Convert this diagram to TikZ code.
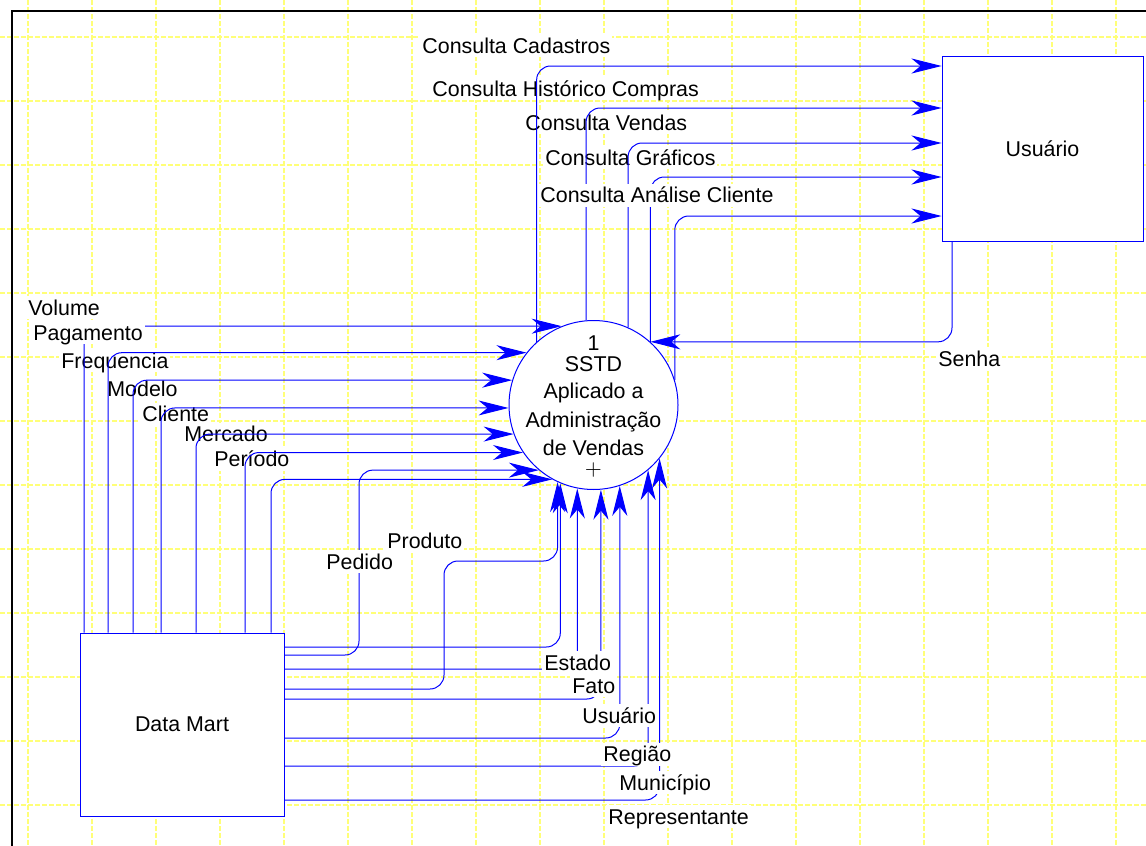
\documentclass[tikz,border=0pt]{standalone}
\usepackage{fontspec}
\setmainfont{Liberation Sans}
\usetikzlibrary{arrows.meta}
\definecolor{gridyellow}{RGB}{255,255,120}
\begin{document}
\begin{tikzpicture}[x=0.5pt,y=-0.5pt,
  every node/.style={font=\fontsize{10.7}{13.7}\selectfont},
  lbl/.style={fill=white,inner sep=1pt,anchor=base west,text height=0.85em,text depth=0.1em},
  ent/.style={draw=blue,fill=white,line width=0.5pt,inner sep=0pt},
  flow/.style={draw=blue,line width=0.5pt,rounded corners=7pt,-{Stealth[length=15pt,width=7.5pt,inset=4.5pt]}},
  gridl/.style={draw=gridyellow,line width=0.6pt,dash pattern=on 2.5pt off 1pt}]
\fill[white] (0,0) rectangle (1146,846);
\useasboundingbox (0,0) rectangle (1146,846);
% grid
\foreach \x in {28,92,...,1116} \draw[gridl] (\x,0) -- (\x,846);
\foreach \y in {37,101,...,805} \draw[gridl] (0,\y) -- (1146,\y);
% frame
\draw[line width=1pt] (12,846) -- (12,11) -- (1146,11);
% labels below the flows
\node[lbl] (lVol) at (26,315) {Volume};
\node[lbl] (lFreq) at (59,368) {Frequencia};
\node[lbl] (lMod) at (105,396.7) {Modelo};
\node[lbl] (lCli) at (140,421.7) {Cliente};
\node[lbl] (lMer) at (182,441.7) {Mercado};
\node[lbl] (lPer) at (212,466.7) {Período};
\node[lbl] (lProd) at (385,548) {Produto};
\node[lbl] (lCC) at (420,53.3) {Consulta Cadastros};
\node[lbl] (lCH) at (430,96) {Consulta Histórico Compras};
\node[lbl] (lCV) at (523,130) {Consulta Vendas};
\node[lbl] (lCG) at (543,165) {Consulta Gráficos};
\node[lbl] (lSen) at (936,366) {Senha};
\node[lbl] (lRep) at (606,824) {Representante};
% entities and process
\node[ent,minimum width=100.5pt,minimum height=92.5pt] (U) at (1042.5,148.5) {Usuário};
\node[ent,minimum width=102pt,minimum height=91.5pt] (D) at (182,724.5) {Data Mart};
\node[ent,circle,minimum size=84.5pt] (C) at (593.5,405) {};
\node[align=center,inner sep=0pt] (Ct) at ([yshift=-0.7pt]C.center) {1\\[-3.2pt]SSTD\\Aplicado a\\[1pt]Administração\\de Vendas\\[-3.5pt]$+$};
% flows to Usuario
\draw[flow] (C.132) |- (U.west |- 0,66);
\draw[flow] (C.95) |- (U.west |- 0,108);
\draw[flow] (C.66.6) |- (U.west |- 0,143);
\draw[flow] (C.48) |- (U.west |- 0,177);
\draw[flow] (C.17.7) |- (U.west |- 0,216);
\draw[flow] (U.south -| 952,0) |- (C.48);
% flows from the top of Data Mart
\draw[flow] (D.north -| 84,0) |- (C.112.6);
\draw[flow] (D.north -| 108,0) |- (C.142);
\draw[flow] (D.north -| 133,0) |- (C.163.5);
\draw[flow] (D.north -| 161,0) |- (C.182);
\draw[flow] (D.north -| 196,0) |- (C.200.1);
\draw[flow] (D.north -| 245,0) |- (C.214.6);
\draw[flow] (D.north -| 271,0) |- (C.241.1);
% flows from the right side of Data Mart
\draw[flow] (D.east |- 0,655) -| (C.230.3 -| 359,0) -- (C.230.3);
\draw[flow] (D.east |- 0,689) -| (444,561) -| (C.245.5);
\draw[flow] (D.east |- 0,647) -| (C.247.75);
\draw[flow] (D.east |- 0,669) -| (C.259.4);
\draw[flow] (D.east |- 0,699) -| (C.275.1);
\draw[flow] (D.east |- 0,738) -| (C.288.3);
\draw[flow] (D.east |- 0,766) -| (C.310.2);
\draw[flow] (D.east |- 0,800) -| (C.321.9);
% labels above the flows
\node[lbl] (lPag) at (31,340) {Pagamento};
\node[lbl] (lPed) at (324,569) {Pedido};
\node[lbl] (lCA) at (538,202.7) {Consulta Análise Cliente};
\node[lbl] (lEst) at (542,670) {Estado};
\node[lbl] (lFato) at (570,693.3) {Fato};
\node[lbl] (lUsu) at (580,723.3) {Usuário};
\node[lbl] (lReg) at (601,761.7) {Região};
\node[lbl] (lMun) at (617,790) {Município};
\end{tikzpicture}
\end{document}
